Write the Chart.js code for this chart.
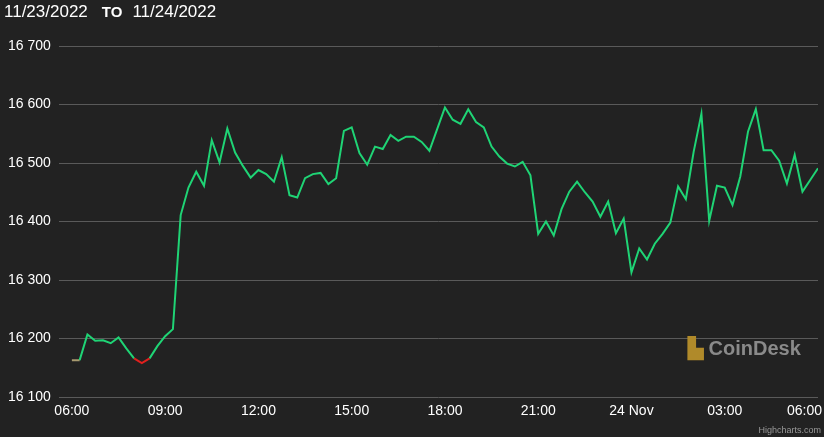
<!DOCTYPE html>
<html>
<head>
<meta charset="utf-8">
<script src="https://cdn.jsdelivr.net/npm/chart.js@4.4.0/dist/chart.umd.min.js"></script>
<style>
  body { margin: 0; background: #222222; font-family: "Liberation Sans", Arial, sans-serif; }
  #wrap { position: relative; width: 824px; height: 437px; }
  #head { position: absolute; left: 4px; top: 2px; color: #fff; font-size: 17px; }
  #head b { margin: 0 10px 0 14px; font-size: 15px; }
  #logo { position: absolute; left: 688px; top: 336px; color: #8a8a8a; font-size: 20px; font-weight: bold; }
  #logo span { color: #b08a2a; }
  #hc { position: absolute; right: 3px; bottom: 2px; color: #999; font-size: 9px; }
</style>
</head>
<body>
<div id="wrap">
  <canvas id="grafico" width="824" height="437"></canvas>
  <div id="head">11/23/2022<b>TO</b>11/24/2022</div>
  <div id="logo"><span>▙</span> CoinDesk</div>
  <div id="hc">Highcharts.com</div>
</div>
<script>
// preço BTC a cada 15 min, a partir de 06:00 de 23/11
const precos = [
  16163, 16163, 16207, 16196, 16197, 16192, 16202, 16183, 16166, 16158, 16166, 16187,
  16204, 16216, 16411, 16458, 16485, 16461, 16539, 16501, 16559, 16518, 16495, 16475,
  16488, 16481, 16468, 16510, 16445, 16441, 16474, 16481, 16483,
  16464, 16474, 16555, 16561, 16517, 16497, 16528, 16524, 16548, 16538, 16545, 16545,
  16536, 16521, 16558, 16595, 16574, 16567, 16592, 16570, 16561, 16528, 16511, 16499,
  16494, 16502, 16479, 16379, 16400, 16376, 16421, 16451,
  16468, 16450, 16434, 16408, 16434, 16380, 16405, 16313, 16354, 16335, 16362, 16379,
  16398, 16460, 16438, 16519, 16584, 16401, 16461, 16458, 16428, 16477, 16554, 16592,
  16522, 16522, 16504, 16465, 16514, 16451, 16471, 16491
];
const horasTicks = [0, 3, 6, 9, 12, 15, 18, 21, 24];
const rotulosTicks = ["06:00", "09:00", "12:00", "15:00", "18:00", "21:00", "24 Nov", "03:00", "06:00"];
const valoresY = [16100, 16200, 16300, 16400, 16500, 16600, 16700];

const pontos = precos.map((v, i) => ({ x: i * 0.25, y: v }));
const abertura = precos[0];
const limiteVermelho = 16161;

// rótulos do eixo x desenhados pela escala, o último encostado na borda
const rotulosX = {
  id: "rotulosX",
  afterDraw(chart) {
    const ctx = chart.ctx;
    const sx = chart.scales.x;
    ctx.save();
    ctx.font = "14px 'Liberation Sans'";
    ctx.fillStyle = "#fff";
    ctx.textBaseline = "top";
    ctx.textAlign = "center";
    horasTicks.forEach((h, i) => {
      const txt = rotulosTicks[i];
      const w = ctx.measureText(txt).width;
      let x = sx.getPixelForValue(h);
      if (x + w / 2 > chart.width - 2) x = chart.width - 2 - w / 2;
      ctx.fillText(txt, x, chart.chartArea.bottom + 7);
    });
    ctx.restore();
  }
};

new Chart(document.getElementById("grafico"), {
  type: "line",
  data: {
    datasets: [{
      data: pontos,
      borderWidth: 2,
      borderColor: "#1fd475",
      pointRadius: 0,
      tension: 0,
      segment: {
        borderColor: ctx => {
          if (ctx.p0.parsed.y === abertura && ctx.p1.parsed.y === abertura) return "#a89a70";
          if (ctx.p0.parsed.y < limiteVermelho || ctx.p1.parsed.y < limiteVermelho) return "#e0201e";
          return "#1fd475";
        }
      }
    }]
  },
  options: {
    responsive: false,
    animation: false,
    layout: { padding: { top: 46, right: 6, left: 0, bottom: 32 } },
    plugins: { legend: { display: false }, tooltip: { enabled: false } },
    scales: {
      x: {
        type: "linear",
        min: -0.42,
        max: 24,
        ticks: { display: false },
        grid: { display: false },
        border: { display: false }
      },
      y: {
        min: 16100,
        max: 16700,
        afterBuildTicks: ax => { ax.ticks = valoresY.map(v => ({ value: v })); },
        ticks: {
          color: "#fff",
          font: { size: 14, family: "Liberation Sans" },
          padding: 8,
          callback: v => String(v).replace(/(\d\d)(\d{3})/, "$1 $2")
        },
        grid: { color: "#5a5a5a", drawTicks: false },
        border: { display: false }
      }
    }
  },
  plugins: [rotulosX]
});
</script>
</body>
</html>
